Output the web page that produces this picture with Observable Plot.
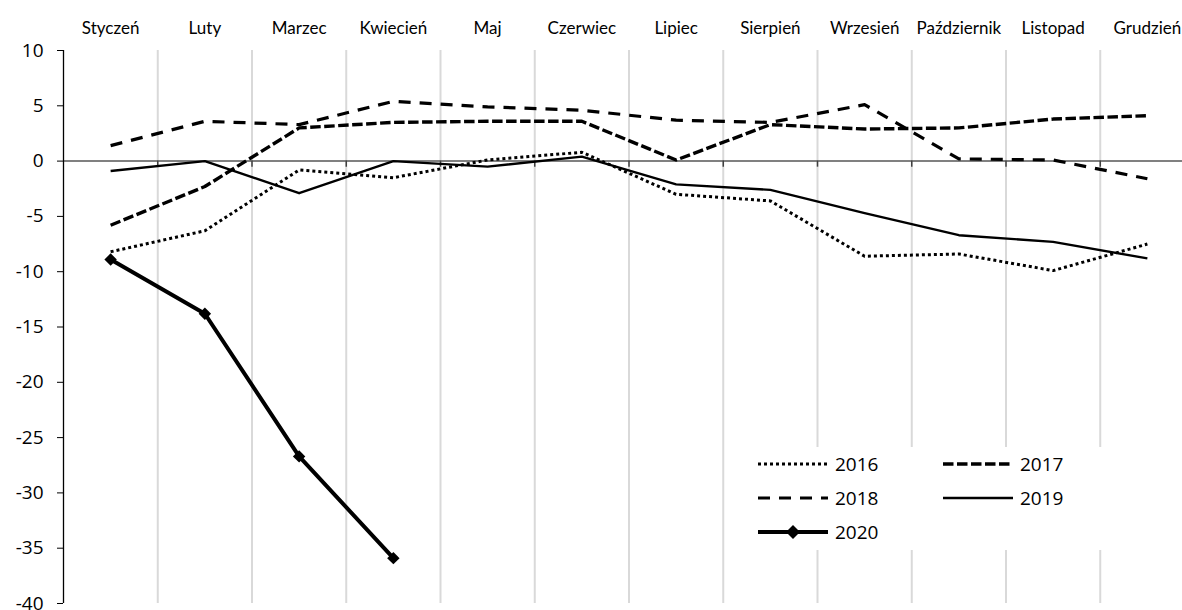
<!DOCTYPE html>
<html>
<head>
<meta charset="utf-8">
<script src="https://cdn.jsdelivr.net/npm/d3@7"></script>
<script src="https://cdn.jsdelivr.net/npm/@observablehq/plot@0.6"></script>
<style>
  html, body { margin: 0; padding: 0; background: #fff; }
  #wrap { position: relative; width: 1182px; height: 610px; overflow: hidden; font-family: "Open Sans", sans-serif; }
  #legend { position: absolute; left: 730px; top: 447px; width: 440px; height: 103px; background: #fff; }
  .item { position: absolute; height: 24px; display: flex; align-items: center; }
  .item span { font-size: 19px; color: #000; margin-left: 7px; line-height: 24px; }
  .months text { font-family: Lato, "Open Sans", sans-serif; }
</style>
</head>
<body>
<div id="wrap"></div>
<script>
// ---- data ----
const months = ["Styczeń","Luty","Marzec","Kwiecień","Maj","Czerwiec","Lipiec","Sierpień","Wrzesień","Październik","Listopad","Grudzień"];
const years = ["2016","2017","2018","2019","2020"];
const v2016 = [-8.2, -6.3, -0.8, -1.5, 0.1, 0.8, -3.0, -3.6, -8.6, -8.4, -9.9, -7.5];
const v2017 = [-5.8, -2.3, 3.0, 3.5, 3.6, 3.6, 0.1, 3.3, 2.9, 3.0, 3.8, 4.1];
const v2018 = [1.4, 3.6, 3.3, 5.4, 4.9, 4.6, 3.7, 3.5, 5.1, 0.2, 0.1, -1.6];
const v2019 = [-0.9, 0.0, -2.9, 0.0, -0.5, 0.4, -2.1, -2.6, -4.7, -6.7, -7.3, -8.8];
const v2020 = [-8.9, -13.8, -26.7, -35.9];
const yTicks = [10, 5, 0, -5, -10, -15, -20, -25, -30, -35, -40];

// ---- styles ----
const seriesValues = {"2016": v2016, "2017": v2017, "2018": v2018, "2019": v2019, "2020": v2020};
const styles = {
  "2016": {strokeWidth: 3, strokeDasharray: "3 3"},
  "2017": {strokeWidth: 3.4, strokeDasharray: "10.5 3.5"},
  "2018": {strokeWidth: 3.2, strokeDasharray: "12 9"},
  "2019": {strokeWidth: 2.4, strokeDasharray: null},
  "2020": {strokeWidth: 4, strokeDasharray: null, marker: true}
};

const rows = years.flatMap(y => seriesValues[y].map((v, i) => ({year: y, m: i, v})));
const boundaries = months.slice(1).map((_, i) => i + 0.5);
const tickPos = months.map((_, i) => i + 0.5);

const lineMarks = years.map(y => Plot.line(rows.filter(d => d.year === y), {
  x: "m", y: "v", stroke: "#000",
  strokeWidth: styles[y].strokeWidth,
  strokeDasharray: styles[y].strokeDasharray || undefined,
  strokeLinejoin: "round", strokeLinecap: "butt"
}));

const chart = Plot.plot({
  width: 1182,
  height: 610,
  marginTop: 50,
  marginBottom: 7,
  marginLeft: 63,
  marginRight: 0,
  style: {background: "#fff", fontFamily: "'Open Sans', sans-serif", color: "#000"},
  x: {type: "linear", domain: [-0.5, 11.5], range: [63, 1194]},
  y: {domain: [-40, 10], range: [603, 50]},
  marks: [
    Plot.ruleX(boundaries, {stroke: "#d9d9d9", strokeWidth: 2}),
    Plot.ruleY([0], {stroke: "#808080", strokeWidth: 2}),
    Plot.ruleX(tickPos, {y1: 0, y2: -0.55, stroke: "#404040", strokeWidth: 1.5}),
    Plot.ruleX([-0.5], {stroke: "#000", strokeWidth: 1.3}),
    ...lineMarks,
    Plot.dot(rows.filter(d => styles[d.year].marker), {x: "m", y: "v", symbol: "diamond2", r: 5.6, fill: "#000", stroke: "none"}),
    Plot.axisY({ticks: yTicks, tickSize: 6, tickPadding: 14, fontSize: 19, label: null, tickFormat: d => d}),
    Plot.axisX({anchor: "top", ticks: d3.range(months.length), tickFormat: i => months[i], tickSize: 0, tickPadding: 17, fontSize: 17, label: null, className: "months"})
  ]
});

const wrap = document.getElementById("wrap");
wrap.appendChild(chart);

// ---- legend ----
const legend = document.createElement("div");
legend.id = "legend";
years.forEach((y, i) => {
  const col = i % 2, row = Math.floor(i / 2);
  const item = document.createElement("div");
  item.className = "item";
  item.style.left = (28 + col * 185) + "px";
  item.style.top = (5 + row * 34) + "px";
  const s = styles[y];
  const ns = "http://www.w3.org/2000/svg";
  const svg = document.createElementNS(ns, "svg");
  svg.setAttribute("width", 70);
  svg.setAttribute("height", 24);
  const ln = document.createElementNS(ns, "line");
  ln.setAttribute("x1", 0); ln.setAttribute("x2", 70);
  ln.setAttribute("y1", 12); ln.setAttribute("y2", 12);
  ln.setAttribute("stroke", "#000");
  ln.setAttribute("stroke-width", s.strokeWidth);
  if (s.strokeDasharray) ln.setAttribute("stroke-dasharray", s.strokeDasharray);
  svg.appendChild(ln);
  if (s.marker) {
    const p = document.createElementNS(ns, "path");
    p.setAttribute("d", "M35,5 L42,12 L35,19 L28,12 Z");
    p.setAttribute("fill", "#000");
    svg.appendChild(p);
  }
  item.appendChild(svg);
  const lab = document.createElement("span");
  lab.textContent = y;
  item.appendChild(lab);
  legend.appendChild(item);
});
wrap.appendChild(legend);
</script>
</body>
</html>
